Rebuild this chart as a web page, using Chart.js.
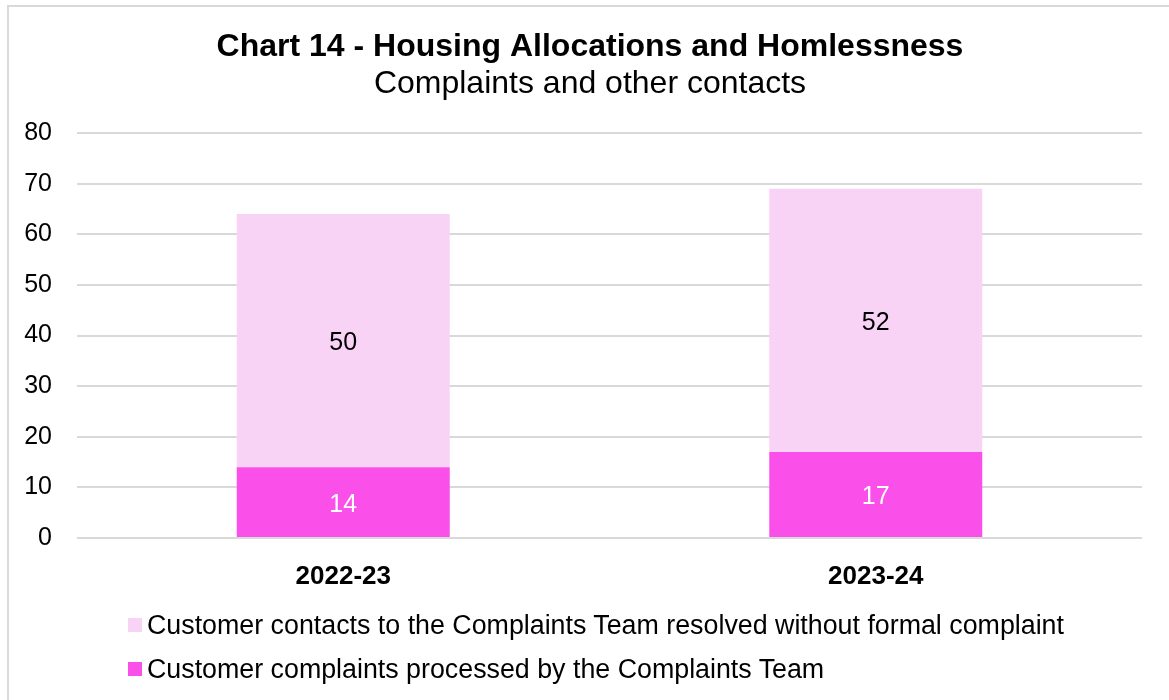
<!DOCTYPE html>
<html>
<head>
<meta charset="utf-8">
<script src="https://cdn.jsdelivr.net/npm/chart.js@4/dist/chart.umd.min.js"></script>
<style>
  html, body { margin: 0; padding: 0; background: #fff; overflow: hidden; }
  #wrap { position: relative; width: 1169px; height: 700px; overflow: hidden; font-family: "Liberation Sans", Arial, sans-serif; }
  .ln { position: absolute; background: #d9d9d9; pointer-events: none; }
  #lnTop { left: 7px; top: 5px; width: 1162px; height: 2px; }
  #lnLeft { left: 7px; top: 5px; width: 2px; height: 695px; }
  canvas { position: absolute; left: 0; top: 0; }
  #legend { position: absolute; left: 128px; top: 603px; font-size: 26.8px; color: #000; }
  .li { display: flex; align-items: center; height: 44px; white-space: nowrap; }
  .sw { width: 14px; height: 14px; margin-right: 5px; flex: none; }
</style>
</head>
<body>
<div id="wrap">
  <canvas id="c" width="1169" height="700"></canvas>
  <div class="ln" id="lnTop"></div>
  <div class="ln" id="lnLeft"></div>
  <div id="legend"></div>
</div>
<script>
const titleText = "Chart 14 - Housing Allocations and Homlessness";
const subtitleText = "Complaints and other contacts";
const categories = ["2022-23", "2023-24"];
const complaintsLabel = "Customer complaints processed by the Complaints Team";
const complaintsValues = [14, 17];
const contactsLabel = "Customer contacts to the Complaints Team resolved without formal complaint";
const contactsValues = [50, 52];
const yTicks = [0, 10, 20, 30, 40, 50, 60, 70, 80];

const darkPink = "#FA50E9";
const lightPink = "#F9D3F6";
const FONT = "'Liberation Sans', Arial, sans-serif";

const labelPlugin = {
  id: 'barLabels',
  afterDatasetsDraw(chart) {
    const ctx = chart.ctx;
    ctx.save();
    ctx.font = "25px " + FONT;
    ctx.textAlign = 'center';
    ctx.textBaseline = 'middle';
    chart.data.datasets.forEach((ds, di) => {
      const meta = chart.getDatasetMeta(di);
      meta.data.forEach((bar, i) => {
        const p = bar.getProps(['x', 'y', 'base'], true);
        ctx.fillStyle = ds.labelColor;
        ctx.fillText(String(ds.data[i]), p.x, (p.y + p.base) / 2 + 3);
      });
    });
    ctx.restore();
  }
};

const titlePlugin = {
  id: 'centeredTitle',
  afterDraw(chart) {
    const ctx = chart.ctx;
    ctx.save();
    ctx.fillStyle = '#000';
    ctx.textAlign = 'center';
    ctx.textBaseline = 'alphabetic';
    ctx.font = "bold 32px " + FONT;
    ctx.fillText(titleText, 590, 56);
    ctx.font = "32px " + FONT;
    ctx.fillText(subtitleText, 590, 92.5);
    ctx.restore();
  }
};

const chart = new Chart(document.getElementById('c'), {
  type: 'bar',
  data: {
    labels: categories,
    datasets: [
      { label: complaintsLabel, data: complaintsValues, backgroundColor: darkPink, labelColor: '#ffffff' },
      { label: contactsLabel, data: contactsValues, backgroundColor: lightPink, labelColor: '#000000' }
    ]
  },
  options: {
    responsive: false,
    animation: false,
    layout: { padding: { left: 0, right: 27, top: 133, bottom: 0 } },
    datasets: { bar: { categoryPercentage: 1.0, barPercentage: 0.4 } },
    plugins: {
      legend: { display: false },
      tooltip: { enabled: false },
      title: { display: false },
      subtitle: { display: false }
    },
    scales: {
      x: {
        stacked: true,
        grid: { display: false, drawTicks: false },
        border: { display: false },
        ticks: { color: '#000', padding: 23, font: { family: FONT, size: 26, weight: 'bold' } },
        afterFit(s) { s.height = 162; }
      },
      y: {
        stacked: true,
        min: 0, max: 80,
        grid: { color: '#d9d9d9', lineWidth: 2, drawTicks: false },
        border: { display: false },
        afterBuildTicks(s) { s.ticks = yTicks.map(v => ({ value: v })); },
        ticks: { color: '#000', padding: 25, font: { family: FONT, size: 25 } },
        afterFit(s) { s.width = 77; }
      }
    }
  },
  plugins: [labelPlugin, titlePlugin]
});

// legend (reversed order, like the reference)
const legend = document.getElementById('legend');
[...chart.data.datasets].reverse().forEach(ds => {
  const row = document.createElement('div');
  row.className = 'li';
  const sw = document.createElement('span');
  sw.className = 'sw';
  sw.style.background = ds.backgroundColor;
  const tx = document.createElement('span');
  tx.textContent = ds.label;
  row.appendChild(sw);
  row.appendChild(tx);
  legend.appendChild(row);
});
</script>
</body>
</html>
